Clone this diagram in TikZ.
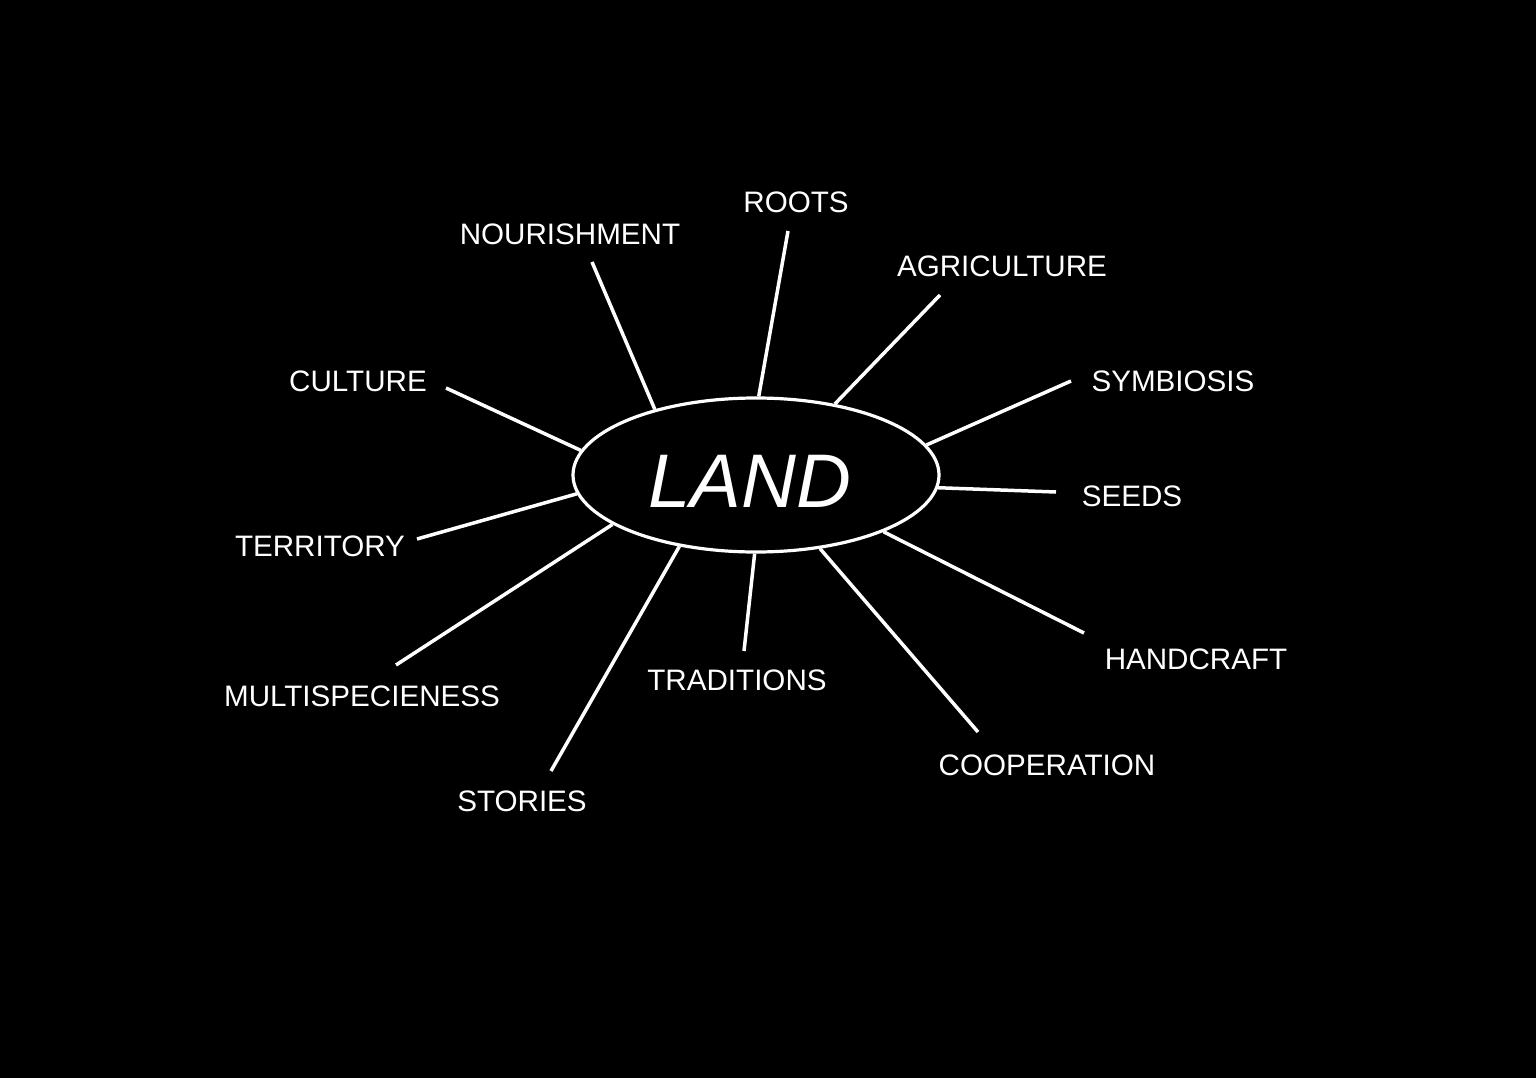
\documentclass[tikz,border=0pt]{standalone}
\usepackage{fontspec}
\setmainfont{Liberation Sans}
\usetikzlibrary{shapes.geometric}
\begin{document}
\begin{tikzpicture}[x=1pt,y=-1pt,
  spoke/.style={draw=white,line width=3.5pt},
  lbl/.style={text=white,font=\fontsize{29.6}{34}\selectfont,inner sep=0pt},
  hub/.style={ellipse,draw=white,line width=3.2pt,minimum width=366pt,minimum height=154pt,inner sep=0pt},
  hubtext/.style={text=white,inner sep=0pt,font=\fontsize{76}{90}\selectfont\itshape}]
\fill[black] (0,0) rectangle (1536,1078);
\node[hub] (land) at (756,475) {};
\node[hubtext] (landtxt) at (750,481) {LAND};
% labels
\node[lbl] (roots) at (796,202.5) {ROOTS};
\node[lbl] (nour) at (570,234.5) {NOURISHMENT};
\node[lbl] (agri) at (1002,266.5) {AGRICULTURE};
\node[lbl] (cult) at (358,381.5) {CULTURE};
\node[lbl] (symb) at (1173,381.5) {SYMBIOSIS};
\node[lbl] (seeds) at (1132,496.5) {SEEDS};
\node[lbl] (terr) at (320,546.5) {TERRITORY};
\node[lbl] (hand) at (1196,659.5) {HANDCRAFT};
\node[lbl] (multi) at (362,696.5) {MULTISPECIENESS};
\node[lbl] (coop) at (1047,765.5) {COOPERATION};
\node[lbl] (trad) at (737,680.5) {TRADITIONS};
\node[lbl] (stor) at (522,801.5) {STORIES};
% free ends of spokes
\coordinate (eroots) at (788,231);
\coordinate (enour) at (592,262);
\coordinate (eagri) at (940,295);
\coordinate (ecult) at (446,388);
\coordinate (esymb) at (1071,381);
\coordinate (eseeds) at (1056,492);
\coordinate (eterr) at (417,539);
\coordinate (ehand) at (1084,633);
\coordinate (emulti) at (396,665);
\coordinate (ecoop) at (978,732);
\coordinate (etrad) at (744,651);
\coordinate (estor) at (551,771);
% spokes
\draw[spoke] (land.88.5) -- (eroots);
\draw[spoke] (land.147.7) -- (enour);
\draw[spoke] (land.42.3) -- (eagri);
\draw[spoke] (land.172) -- (ecult);
\draw[spoke] (land.10.2) -- (esymb);
\draw[spoke] (land.-4) -- (eseeds);
\draw[spoke] (land.186.3) -- (eterr);
\draw[spoke] (land.-24.2) -- (ehand);
\draw[spoke] (land.199.3) -- (emulti);
\draw[spoke] (land.-49.5) -- (ecoop);
\draw[spoke] (land.269.3) -- (etrad);
\draw[spoke] (land.223.8) -- (estor);
\end{tikzpicture}
\end{document}
